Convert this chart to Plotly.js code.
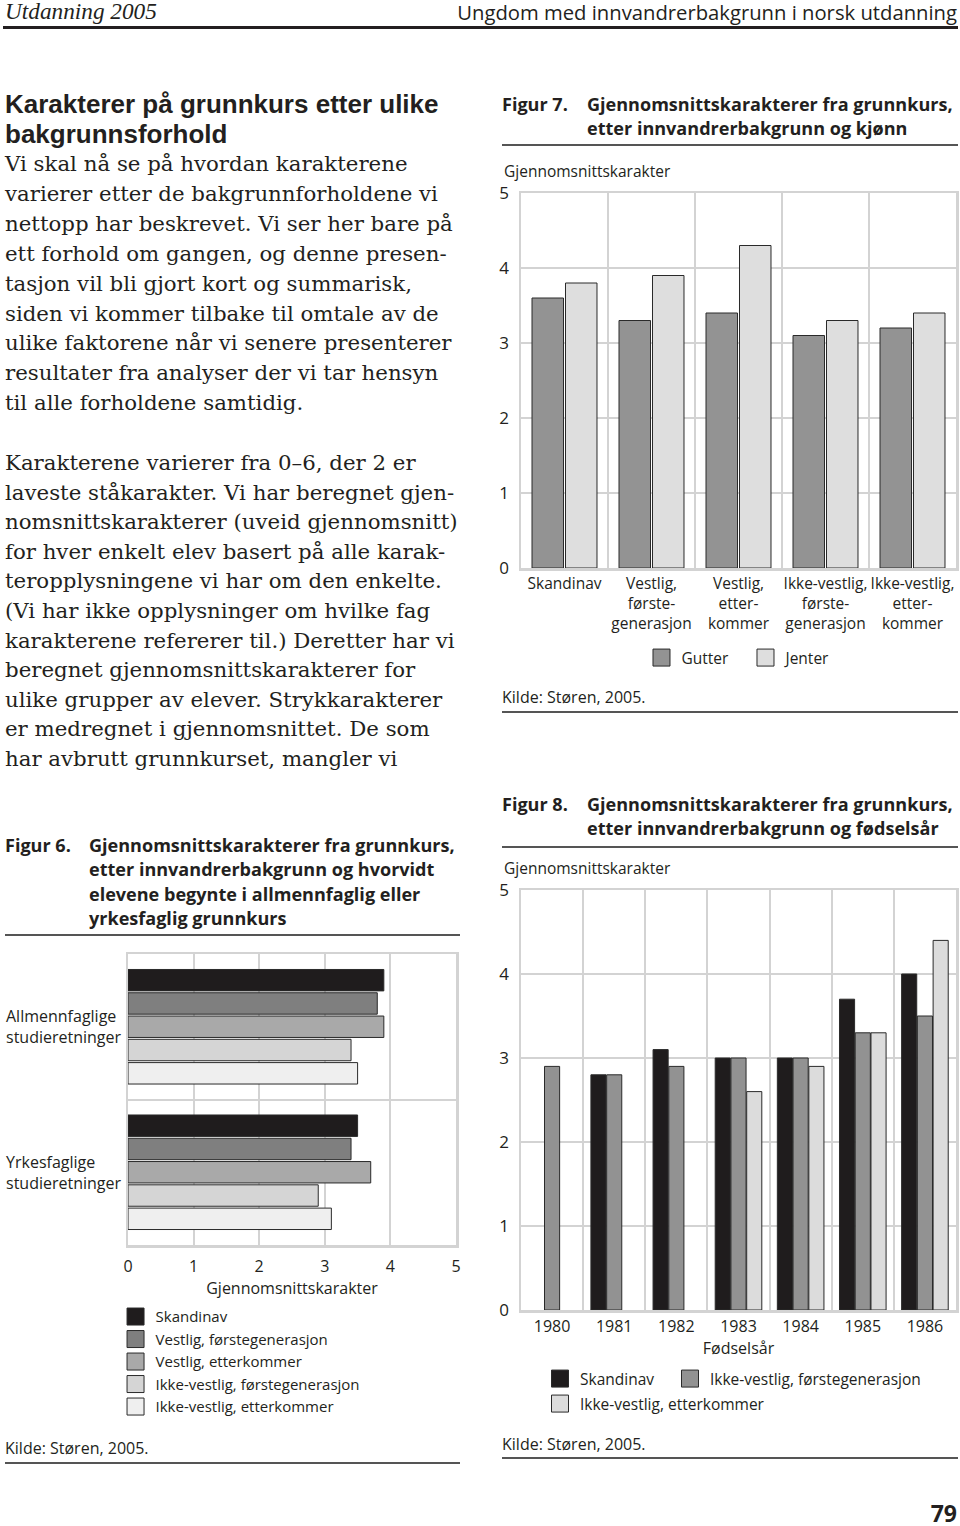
<!DOCTYPE html>
<html><head><meta charset="utf-8">
<script src="https://cdn.plot.ly/plotly-3.0.1.min.js"></script>
<style>
html,body{margin:0;padding:0;}
body{width:960px;height:1526px;position:relative;background:#fff;overflow:hidden;color:#231f20;}
.abs{position:absolute;white-space:nowrap;}
.sans{font-family:"Open Sans","Noto Sans",sans-serif;}
.serif{font-family:"DejaVu Serif",serif;}
.rule{position:absolute;}
.plot{position:absolute;}
.ln{display:block;} .ln span{display:inline-block;line-height:1.12;}
</style></head><body>

<div id="hdrL" class="abs" style="left:5px;top:-3px;font-family:'Liberation Serif',serif;font-style:italic;font-size:22px;line-height:28px;"><span>Utdanning 2005</span></div>
<div id="hdrR" class="abs sans" style="right:3px;top:-2px;font-size:19px;line-height:28px;font-weight:400;"><span>Ungdom med innvandrerbakgrunn i norsk utdanning</span></div>
<div class="rule" style="left:3px;top:26px;width:955px;height:3px;background:#231f20;"></div>

<div id="heading" class="abs" style="left:5px;top:89px;font-family:'Liberation Sans',Arial,sans-serif;font-size:22px;line-height:30px;font-weight:700;">
<div class="ln"><span id="headRef">Karakterer på grunnkurs etter ulike</span></div>
<div class="ln"><span>bakgrunnsforhold</span></div>
</div>

<div id="p1" class="abs serif" style="left:5px;top:149px;font-size:20px;line-height:29.9px;">
<div class="ln"><span>Vi skal nå se på hvordan karakterene</span></div>
<div class="ln"><span>varierer etter de bakgrunnforholdene vi</span></div>
<div class="ln"><span>nettopp har beskrevet. Vi ser her bare på</span></div>
<div class="ln"><span>ett forhold om gangen, og denne presen-</span></div>
<div class="ln"><span>tasjon vil bli gjort kort og summarisk,</span></div>
<div class="ln"><span>siden vi kommer tilbake til omtale av de</span></div>
<div class="ln"><span>ulike faktorene når vi senere presenterer</span></div>
<div class="ln"><span>resultater fra analyser der vi tar hensyn</span></div>
<div class="ln"><span>til alle forholdene samtidig.</span></div>
</div>

<div id="p2" class="abs serif" style="left:5px;top:448px;font-size:20px;line-height:29.6px;">
<div class="ln"><span>Karakterene varierer fra 0–6, der 2 er</span></div>
<div class="ln"><span>laveste ståkarakter. Vi har beregnet gjen-</span></div>
<div class="ln"><span id="bodyRef">nomsnittskarakterer (uveid gjennomsnitt)</span></div>
<div class="ln"><span>for hver enkelt elev basert på alle karak-</span></div>
<div class="ln"><span>teropplysningene vi har om den enkelte.</span></div>
<div class="ln"><span>(Vi har ikke opplysninger om hvilke fag</span></div>
<div class="ln"><span>karakterene refererer til.) Deretter har vi</span></div>
<div class="ln"><span>beregnet gjennomsnittskarakterer for</span></div>
<div class="ln"><span>ulike grupper av elever. Strykkarakterer</span></div>
<div class="ln"><span>er medregnet i gjennomsnittet. De som</span></div>
<div class="ln"><span>har avbrutt grunnkurset, mangler vi</span></div>
</div>

<!-- Figure 6 title -->
<div class="abs sans figt" style="left:5px;top:833px;font-size:17px;line-height:24.3px;font-weight:700;">Figur 6.</div>
<div class="abs sans figt" style="left:89px;top:833px;font-size:17px;line-height:24.3px;font-weight:700;">
<div class="ln"><span class="figRef">Gjennomsnittskarakterer fra grunnkurs,</span></div>
<div class="ln"><span>etter innvandrerbakgrunn og hvorvidt</span></div>
<div class="ln"><span>elevene begynte i allmennfaglig eller</span></div>
<div class="ln"><span>yrkesfaglig grunnkurs</span></div>
</div>
<div class="rule" style="left:5px;top:934px;width:455px;height:2px;background:#555;"></div>
<div class="abs sans src" style="left:5px;top:1437px;font-size:16px;line-height:22px;">Kilde: Støren, 2005.</div>
<div class="rule" style="left:5px;top:1462px;width:455px;height:2px;background:#555;"></div>

<!-- Figure 7 title -->
<div class="abs sans figt" style="left:502px;top:92px;font-size:17px;line-height:24px;font-weight:700;">Figur 7.</div>
<div class="abs sans figt" style="left:587px;top:92px;font-size:17px;line-height:24px;font-weight:700;">
<div class="ln"><span>Gjennomsnittskarakterer fra grunnkurs,</span></div>
<div class="ln"><span>etter innvandrerbakgrunn og kjønn</span></div>
</div>
<div class="rule" style="left:502px;top:144px;width:456px;height:2px;background:#555;"></div>
<div class="abs sans src" style="left:502px;top:686px;font-size:16px;line-height:22px;">Kilde: Støren, 2005.</div>
<div class="rule" style="left:502px;top:711px;width:456px;height:2px;background:#555;"></div>

<!-- Figure 8 title -->
<div class="abs sans figt" style="left:502px;top:792px;font-size:17px;line-height:24px;font-weight:700;">Figur 8.</div>
<div class="abs sans figt" style="left:587px;top:792px;font-size:17px;line-height:24px;font-weight:700;">
<div class="ln"><span>Gjennomsnittskarakterer fra grunnkurs,</span></div>
<div class="ln"><span>etter innvandrerbakgrunn og fødselsår</span></div>
</div>
<div class="rule" style="left:502px;top:846px;width:456px;height:2px;background:#555;"></div>
<div class="abs sans src" style="left:502px;top:1433px;font-size:16px;line-height:22px;">Kilde: Støren, 2005.</div>
<div class="rule" style="left:502px;top:1457px;width:456px;height:2px;background:#555;"></div>

<div class="abs sans" style="right:3px;top:1499px;font-size:23px;line-height:28px;font-weight:700;">79</div>

<div id="fig6" class="plot" style="left:0px;top:940px;width:480px;height:500px;"></div>
<div id="fig7" class="plot" style="left:480px;top:140px;width:480px;height:560px;"></div>
<div id="fig8" class="plot" style="left:480px;top:850px;width:480px;height:610px;"></div>

<script>
// ---------------- DATA ----------------
// Figur 6
const fig6Categories = ['Allmennfaglige', 'Yrkesfaglige'];
const fig6CategoryLabels = ['Allmennfaglige<br>studieretninger', 'Yrkesfaglige<br>studieretninger'];
const fig6SeriesNames = ['Skandinav', 'Vestlig, førstegenerasjon', 'Vestlig, etterkommer', 'Ikke-vestlig, førstegenerasjon', 'Ikke-vestlig, etterkommer'];
const fig6Skandinav = [3.9, 3.5];
const fig6VestligForste = [3.8, 3.4];
const fig6VestligEtter = [3.9, 3.7];
const fig6IkkeVestligForste = [3.4, 2.9];
const fig6IkkeVestligEtter = [3.5, 3.1];
const fig6TickVals = [0, 1, 2, 3, 4, 5];

// Figur 7
const fig7Categories = ['Skandinav', 'Vestlig,<br>første-<br>generasjon', 'Vestlig,<br>etter-<br>kommer', 'Ikke-vestlig,<br>første-<br>generasjon', 'Ikke-vestlig,<br>etter-<br>kommer'];
const fig7SeriesNames = ['Gutter', 'Jenter'];
const fig7Gutter = [3.6, 3.3, 3.4, 3.1, 3.2];
const fig7Jenter = [3.8, 3.9, 4.3, 3.3, 3.4];
const fig7TickVals = [0, 1, 2, 3, 4, 5];

// Figur 8
const fig8Years = ['1980', '1981', '1982', '1983', '1984', '1985', '1986'];
const fig8SeriesNames = ['Skandinav', 'Ikke-vestlig, førstegenerasjon', 'Ikke-vestlig, etterkommer'];
const fig8Skandinav = [null, 2.8, 3.1, 3.0, 3.0, 3.7, 4.0];
const fig8IkkeVestligForste = [2.9, 2.8, 2.9, 3.0, 3.0, 3.3, 3.5];
const fig8IkkeVestligEtter = [null, null, null, 2.6, 2.9, 3.3, 4.4];
const fig8TickVals = [0, 1, 2, 3, 4, 5];

// ---------------- STYLE ----------------
const FONT = '"Open Sans","Noto Sans",sans-serif';
const TXT = '#231f20';
const GRID = '#d3d3d3';
const OUTLINE = '#2a2a2a';
const cfg = {staticPlot: true, displayModeBar: false};

// -------- text fitting --------
function fit(el, target){
  const w = el.getBoundingClientRect().width;
  return target / w;
}
(function(){
  const bodyScale = fit(document.getElementById('bodyRef'), 453);
  ['p1','p2'].forEach(id => { const e = document.getElementById(id); e.style.fontSize = (20*bodyScale)+'px'; });
  const hs = fit(document.getElementById('headRef'), 448);
  document.getElementById('heading').style.fontSize = Math.min(22*hs, 26)+'px';
  const fr = document.querySelector('.figRef');
  const fs = fit(fr, 366);
  document.querySelectorAll('.figt').forEach(e => e.style.fontSize = (17*fs)+'px');
  const hl = document.querySelector('#hdrL span'); const sl = fit(hl, 152);
  document.getElementById('hdrL').style.fontSize = (22*sl)+'px';
  const hr = document.querySelector('#hdrR span'); const sr = fit(hr, 500);
  document.getElementById('hdrR').style.fontSize = (19*sr)+'px';
})();

function enlargeLegend(gd){
  gd.querySelectorAll('.legendpoints path').forEach(p => p.setAttribute('d', 'M8.5,8.5H-8.5V-8.5H8.5Z'));
}

const axisFrame = {showline: true, mirror: true, linecolor: GRID, linewidth: 2.5, showgrid: true, gridcolor: GRID, gridwidth: 2, zeroline: false, fixedrange: true};
const legendBase = {xanchor: 'left', yanchor: 'middle', font: {size: 15.5, family: FONT, color: TXT}, itemwidth: 30, bgcolor: 'rgba(0,0,0,0)'};

// ---------------- FIGUR 6 ----------------
const fig6Values = [fig6Skandinav, fig6VestligForste, fig6VestligEtter, fig6IkkeVestligForste, fig6IkkeVestligEtter];
const fig6Colors = ['#1f1c1d', '#7f7f7f', '#a9a9a9', '#d5d5d5', '#efefef'];
const fig6Traces = fig6SeriesNames.map((n, i) => ({
  type: 'bar', orientation: 'h', name: n, y: fig6Categories, x: fig6Values[i],
  marker: {color: fig6Colors[i], line: {color: OUTLINE, width: 1}}, hoverinfo: 'skip'
}));
const fig6Layout = {
  width: 480, height: 500, margin: {l: 128, r: 24, t: 14, b: 195},
  paper_bgcolor: 'rgba(0,0,0,0)', plot_bgcolor: '#fff',
  font: {family: FONT, color: TXT, size: 16},
  barmode: 'group', bargap: 0.2, bargroupgap: 0.08,
  showlegend: true,
  legend: {orientation: 'v', x: -0.038, xanchor: 'left', y: -0.19, yanchor: 'top', font: {size: 15, family: FONT, color: TXT}, itemwidth: 30, tracegroupgap: 0, bgcolor: 'rgba(0,0,0,0)'},
  xaxis: Object.assign({}, axisFrame, {range: [0, 5], tickvals: fig6TickVals, ticks: 'outside', ticklen: 5, tickcolor: 'rgba(0,0,0,0)', tickfont: {size: 16},
    title: {text: 'Gjennomsnittskarakter', font: {size: 16}, standoff: 2}}),
  yaxis: Object.assign({}, axisFrame, {type: 'category', autorange: 'reversed', tickson: 'boundaries', showticklabels: false, ticks: ''}),
  annotations: fig6Categories.map((c, i) => ({
    xref: 'paper', yref: 'y', x: (4 - 128) / 328, y: c, xanchor: 'left', yanchor: 'middle', align: 'left',
    text: fig6CategoryLabels[i], showarrow: false, font: {size: 16, family: FONT, color: TXT}
  }))
};
Plotly.newPlot('fig6', fig6Traces, fig6Layout, cfg).then(enlargeLegend);

// ---------------- FIGUR 7 ----------------
const fig7Values = [fig7Gutter, fig7Jenter];
const fig7Colors = ['#939393', '#dedede'];
const fig7Traces = fig7SeriesNames.map((n, i) => ({
  type: 'bar', name: n, x: fig7Categories, y: fig7Values[i],
  marker: {color: fig7Colors[i], line: {color: OUTLINE, width: 1}}, hoverinfo: 'skip'
}));
const fig7Layout = {
  width: 480, height: 560, margin: {l: 41, r: 4, t: 53, b: 132},
  paper_bgcolor: 'rgba(0,0,0,0)', plot_bgcolor: '#fff',
  font: {family: FONT, color: TXT, size: 16},
  barmode: 'group', bargap: 0.23, bargroupgap: 0.06,
  showlegend: true,
  legend: Object.assign({}, legendBase, {orientation: 'h', x: 0.277, y: -0.24, entrywidth: 59, entrywidthmode: 'pixels'}),
  xaxis: Object.assign({}, axisFrame, {type: 'category', tickson: 'boundaries', ticks: 'outside', ticklen: 4, tickcolor: 'rgba(0,0,0,0)', tickfont: {size: 15.5}, tickangle: 0}),
  yaxis: Object.assign({}, axisFrame, {range: [0, 5], tickvals: fig7TickVals, ticks: 'outside', ticklen: 6, tickcolor: 'rgba(0,0,0,0)', tickfont: {size: 17}}),
  annotations: [{xref: 'paper', yref: 'paper', x: (502 - 521) / 435, y: (568 - 171) / 375, xanchor: 'left', yanchor: 'middle',
    text: 'Gjennomsnittskarakter', showarrow: false, font: {size: 15.5, family: FONT, color: TXT}}]
};
Plotly.newPlot('fig7', fig7Traces, fig7Layout, cfg).then(enlargeLegend);

// ---------------- FIGUR 8 ----------------
const fig8Values = [fig8Skandinav, fig8IkkeVestligForste, fig8IkkeVestligEtter];
const fig8Colors = ['#1f1c1d', '#929292', '#dcdcdc'];
const fig8LegendIds = ['legend', 'legend2', 'legend3'];
const fig8Traces = fig8SeriesNames.map((n, i) => ({
  type: 'bar', name: n, x: fig8Years, y: fig8Values[i], legend: fig8LegendIds[i],
  marker: {color: fig8Colors[i], line: {color: OUTLINE, width: 1}}, hoverinfo: 'skip'
}));
const fig8Layout = {
  width: 480, height: 610, margin: {l: 41, r: 4, t: 40, b: 150},
  paper_bgcolor: 'rgba(0,0,0,0)', plot_bgcolor: '#fff',
  font: {family: FONT, color: TXT, size: 16},
  barmode: 'group', bargap: 0.24, bargroupgap: 0.04,
  showlegend: true,
  legend: Object.assign({}, legendBase, {orientation: 'h', x: (580 - 561) / 435, y: (1310 - 1379) / 420}),
  legend2: Object.assign({}, legendBase, {orientation: 'h', x: (710 - 561) / 435, y: (1310 - 1379) / 420}),
  legend3: Object.assign({}, legendBase, {orientation: 'h', x: (580 - 561) / 435, y: (1310 - 1404) / 420}),
  xaxis: Object.assign({}, axisFrame, {type: 'category', tickson: 'boundaries', ticks: 'outside', ticklen: 4, tickcolor: 'rgba(0,0,0,0)', tickfont: {size: 16},
    title: {text: 'Fødselsår', font: {size: 16}, standoff: 2}}),
  yaxis: Object.assign({}, axisFrame, {range: [0, 5], tickvals: fig8TickVals, ticks: 'outside', ticklen: 6, tickcolor: 'rgba(0,0,0,0)', tickfont: {size: 17}}),
  annotations: [{xref: 'paper', yref: 'paper', x: (502 - 521) / 435, y: (1310 - 868) / 420, xanchor: 'left', yanchor: 'middle',
    text: 'Gjennomsnittskarakter', showarrow: false, font: {size: 15.5, family: FONT, color: TXT}}]
};
Plotly.newPlot('fig8', fig8Traces, fig8Layout, cfg).then(enlargeLegend);
</script>
</body></html>
